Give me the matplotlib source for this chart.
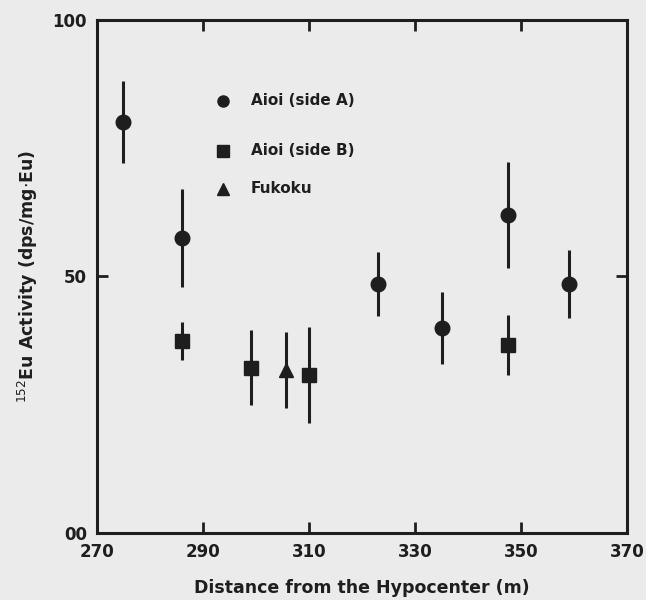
import matplotlib
matplotlib.use("Agg")
import matplotlib.pyplot as plt

# Aioi (side A)
side_a_x = [275, 286, 323, 335, 347.5, 359]
side_a_y = [80, 57.5, 48.5, 40, 62, 48.5]
side_a_err = [8, 9.5, 6.3, 7, 10.3, 6.7]

# Aioi (side B)
side_b_x = [286, 299, 310, 347.5]
side_b_y = [37.4, 32.2, 30.8, 36.6]
side_b_err = [3.7, 7.3, 9.4, 5.8]

# Fukoku
fukoku_x = [305.7]
fukoku_y = [31.8]
fukoku_err = [7.4]

x_ticks = [270, 290, 310, 330, 350, 370]
y_ticks = [0, 50, 100]
y_tick_labels = ["00", "50", "100"]

bg = "#ebebeb"
ink = "#1e1e1e"

plt.rcParams['font.family'] = ['DejaVu Sans']

fig = plt.figure(figsize=(6.46, 6.0), dpi=100, facecolor=bg)
ax = fig.add_axes([0.150, 0.112, 0.821, 0.855], facecolor=bg)

ax.errorbar(side_a_x, side_a_y, yerr=side_a_err, fmt='o', color=ink,
            ms=10.5, elinewidth=2.2, capsize=0)
ax.errorbar(side_b_x, side_b_y, yerr=side_b_err, fmt='s', color=ink,
            ms=10.5, elinewidth=2.2, capsize=0)
ax.errorbar(fukoku_x, fukoku_y, yerr=fukoku_err, fmt='^', color=ink,
            ms=10.5, elinewidth=2.2, capsize=0)

# legend drawn as markers + text
leg_x = 293.7
leg_text_x = 299
leg_rows = [(84.2, 'o', "Aioi (side A)"), (74.5, 's', "Aioi (side B)"),
            (67.1, '^', "Fukoku")]
for ly, mk, label in leg_rows:
    ax.plot([leg_x], [ly], marker=mk, color=ink, ms=8, ls='none')
    ax.text(leg_text_x, ly, label, va='center', ha='left', fontsize=11,
            fontweight='bold', color=ink)

ax.set_xlim(270, 370)
ax.set_ylim(0, 100)
ax.set_xticks(x_ticks)
ax.set_yticks(y_ticks)
ax.set_yticklabels(y_tick_labels)
ax.tick_params(direction='in', length=8, width=2, top=True, right=True,
               labelsize=12, colors=ink, pad=7)
for lab in ax.get_xticklabels() + ax.get_yticklabels():
    lab.set_fontweight('bold')
for sp in ax.spines.values():
    sp.set_linewidth(2.2)
    sp.set_color(ink)

ax.set_xlabel("Distance from the Hypocenter (m)", fontsize=12.5,
              fontweight='bold', color=ink, labelpad=13)
ax.set_ylabel(r"$^{152}$Eu Activity (dps/mg$\cdot$Eu)", fontsize=12.5,
              fontweight='bold', color=ink, labelpad=9)

fig.savefig("out.png", dpi=100, facecolor=bg)
